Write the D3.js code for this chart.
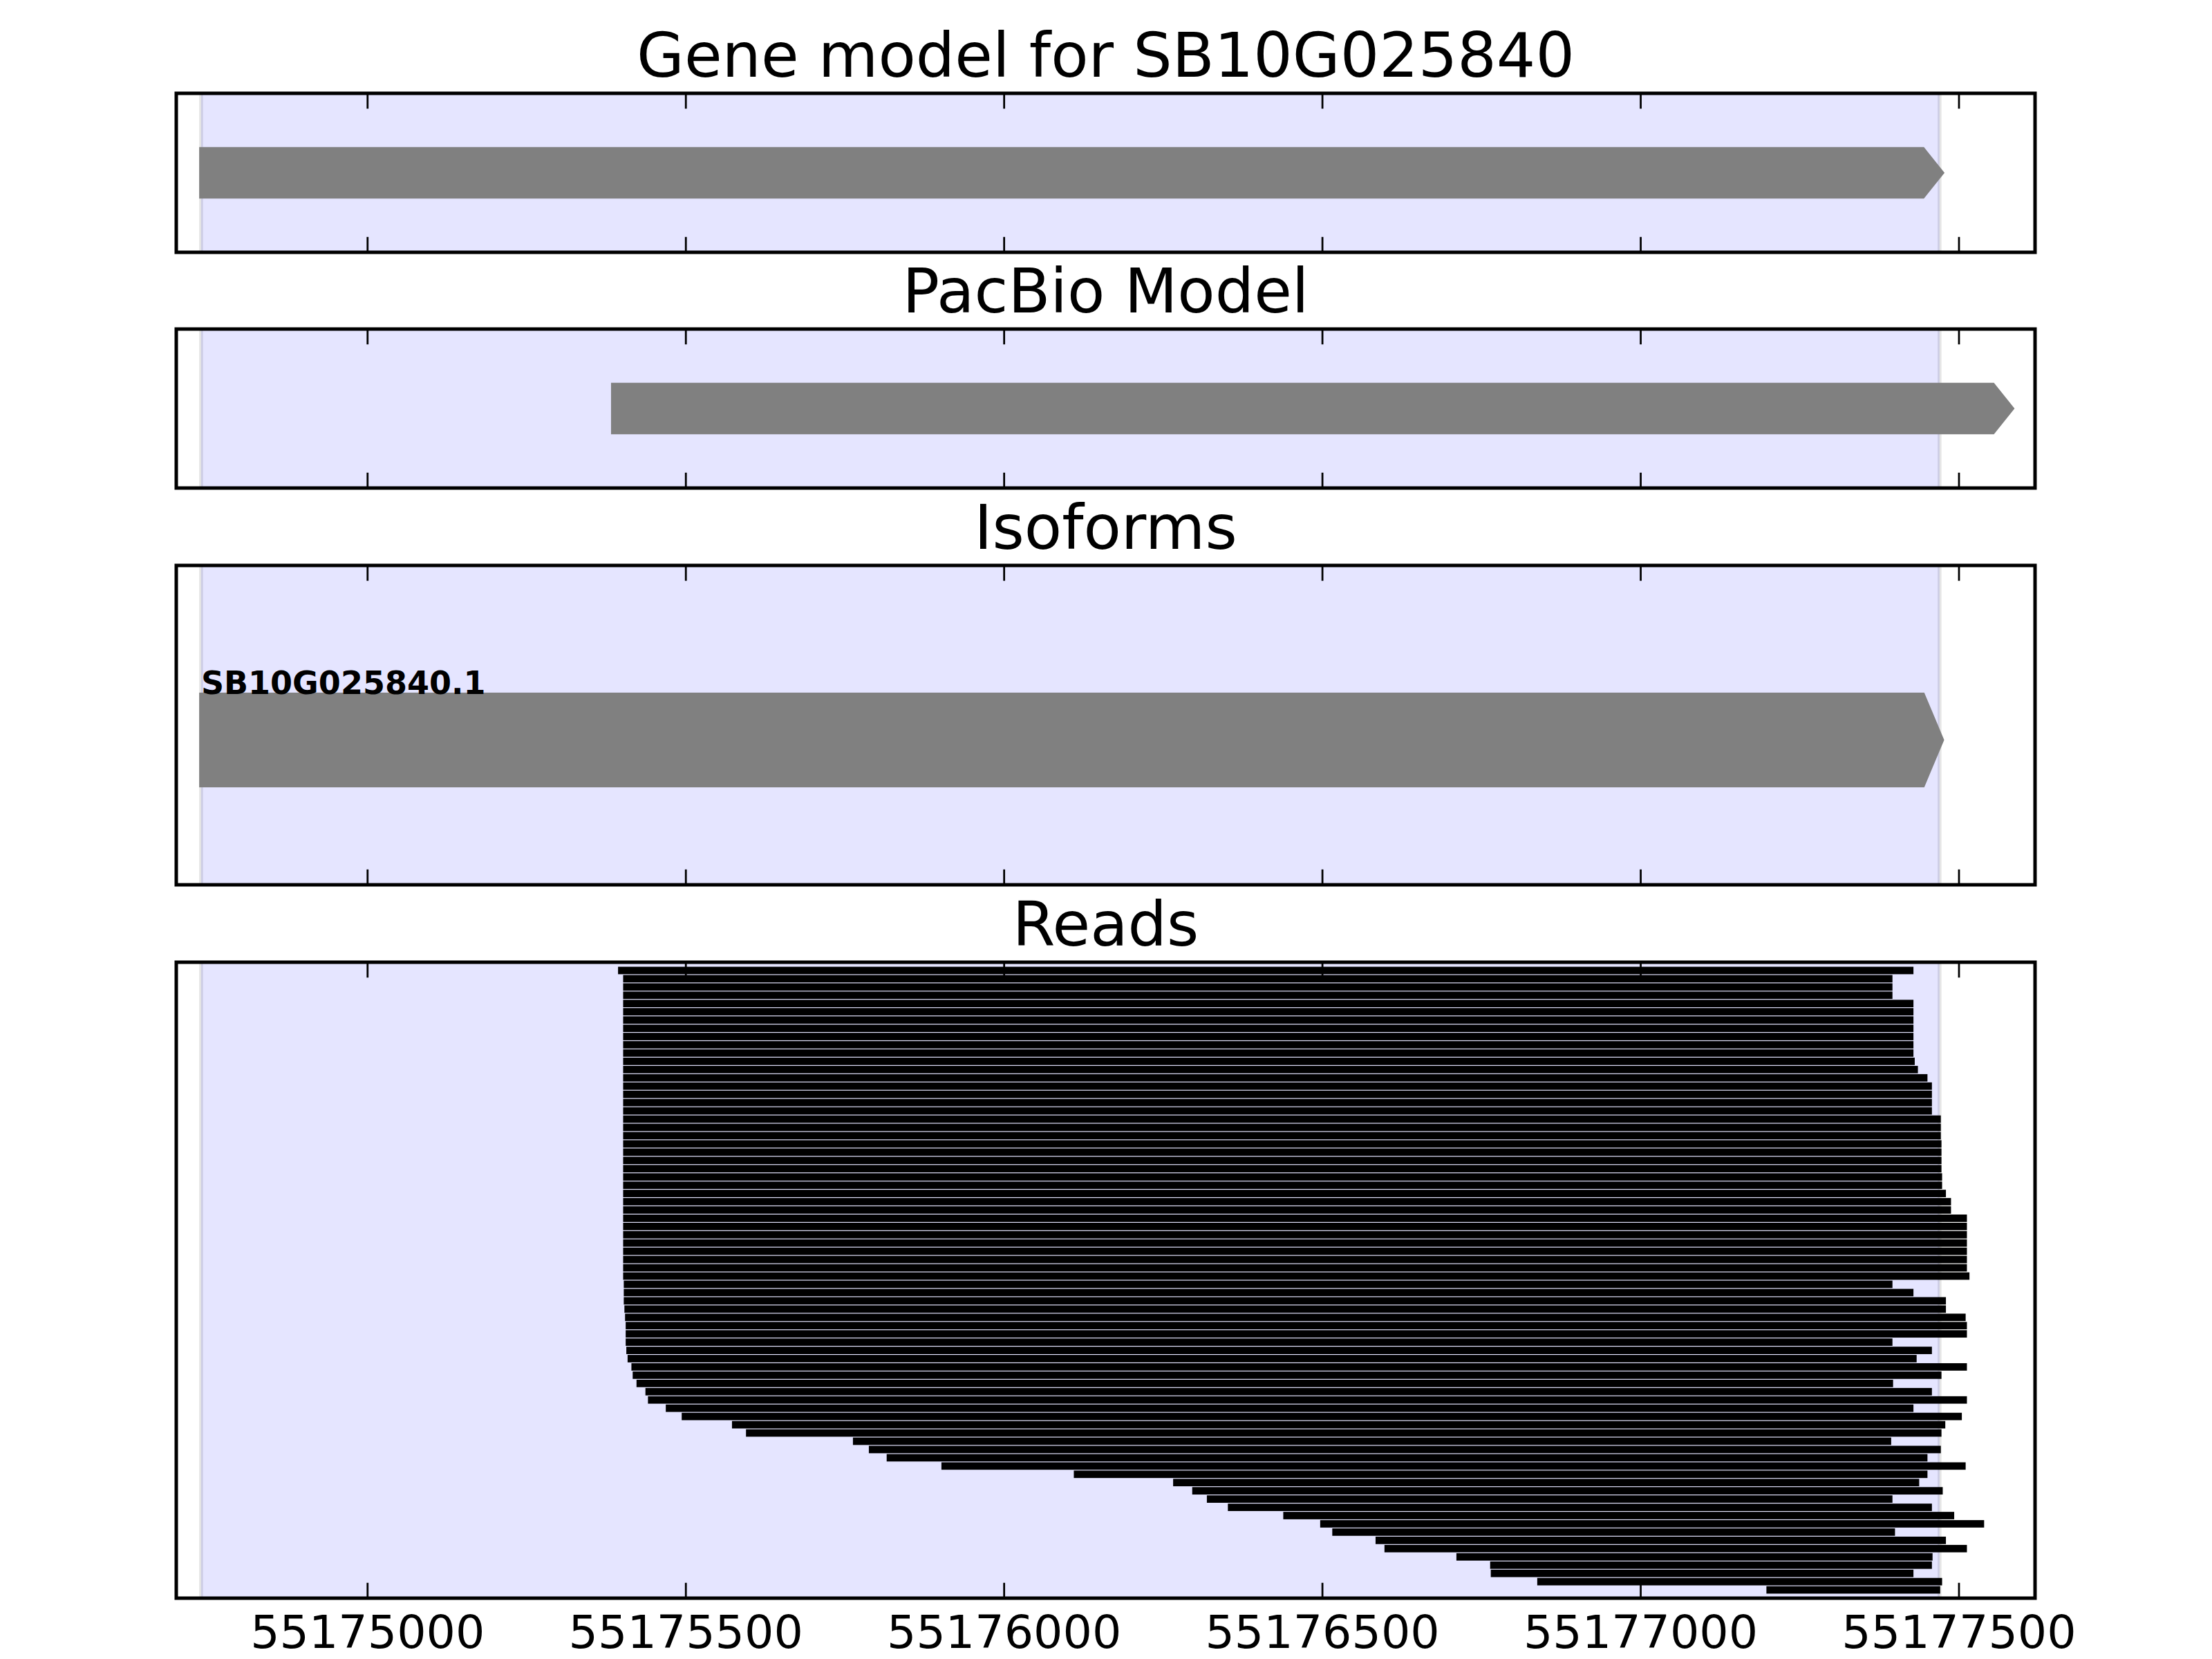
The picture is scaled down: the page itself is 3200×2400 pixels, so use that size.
<!DOCTYPE html>
<html><head><meta charset="utf-8">
<script src="https://cdn.jsdelivr.net/npm/d3@7"></script>
<style>html,body{margin:0;padding:0;background:#fff;} svg{display:block;font-family:"DejaVu Sans",sans-serif;}</style>
</head><body><svg id="chart" width="3200" height="2400"></svg>
<script>
// ---------- data ----------
const panelTitles = ["Gene model for SB10G025840", "PacBio Model", "Isoforms", "Reads"];
const xDomain = [55174700, 55177620];
const tickValues = [55175000, 55175500, 55176000, 55176500, 55177000, 55177500];
const tickLabels = ["55175000", "55175500", "55176000", "55176500", "55177000", "55177500"];
const geneSpan = [55174739, 55177470];
const geneModel = [55174739, 55177474];
const pacbioModel = [55175386, 55177584];
const isoformNames = ["SB10G025840.1"];
const isoformStarts = [55174739];
const isoformEnds = [55177474];
const readStarts = [
  55175394, 55175402, 55175402, 55175402, 55175402, 55175402, 55175402, 55175402, 55175402, 55175402,
  55175402, 55175402, 55175402, 55175402, 55175402, 55175402, 55175402, 55175402, 55175402, 55175402,
  55175402, 55175402, 55175402, 55175402, 55175402, 55175402, 55175402, 55175402, 55175402, 55175402,
  55175402, 55175402, 55175402, 55175402, 55175402, 55175402, 55175402, 55175402, 55175403, 55175403,
  55175403, 55175404, 55175405, 55175406, 55175406, 55175406, 55175407, 55175409, 55175415, 55175417,
  55175423, 55175437, 55175441, 55175469, 55175494, 55175573, 55175595, 55175763, 55175788, 55175816,
  55175902, 55176110, 55176266, 55176296, 55176319, 55176352, 55176439, 55176497, 55176516, 55176584,
  55176598, 55176711, 55176764, 55176765, 55176838, 55177198
];
const readEnds = [
  55177429, 55177396, 55177396, 55177396, 55177429, 55177429, 55177429, 55177429, 55177429, 55177429,
  55177429, 55177431, 55177436, 55177451, 55177458, 55177458, 55177458, 55177458, 55177472, 55177472,
  55177472, 55177473, 55177473, 55177473, 55177473, 55177474, 55177474, 55177480, 55177488, 55177488,
  55177513, 55177513, 55177513, 55177513, 55177513, 55177513, 55177513, 55177517, 55177396, 55177429,
  55177480, 55177480, 55177511, 55177513, 55177513, 55177396, 55177458, 55177434, 55177513, 55177473,
  55177397, 55177458, 55177513, 55177429, 55177505, 55177479, 55177473, 55177394, 55177472, 55177451,
  55177511, 55177451, 55177438, 55177475, 55177396, 55177458, 55177493, 55177540, 55177400, 55177480,
  55177513, 55177459, 55177458, 55177429, 55177474, 55177471
];

// ---------- layout ----------
const PT = 400 / 72;             // px per point
const svg = d3.select("#chart");
const axLeft = 255, axRight = 2944;
const panels = [
  {top: 135, bottom: 365},
  {top: 476, bottom: 706},
  {top: 818, bottom: 1280},
  {top: 1392, bottom: 2312}
];
const x = d3.scaleLinear().domain(xDomain).range([axLeft, axRight]);
const grey = "#808080";
const headLen = 30;        // bp
const halfW = 0.3;

const defs = svg.append("defs");
panels.forEach((p, i) => {
  defs.append("clipPath").attr("id", "clip" + i)
    .append("rect").attr("x", axLeft).attr("y", p.top)
    .attr("width", axRight - axLeft).attr("height", p.bottom - p.top);
});

function arrowPoints(s, e, yc, yScale) {
  const xs = x(s), xe = x(e), xh = x(e - headLen);
  const yt = yScale(yc + halfW), yb = yScale(yc - halfW), ym = yScale(yc);
  return [[xs, yt], [xh, yt], [xe, ym], [xh, yb], [xs, yb]];
}

const yScales = [
  d3.scaleLinear().domain([-1, 1]).range([panels[0].bottom, panels[0].top]),
  d3.scaleLinear().domain([-1, 1]).range([panels[1].bottom, panels[1].top]),
  d3.scaleLinear().domain([-0.957, 1.153]).range([panels[2].bottom, panels[2].top]),
  d3.scaleLinear().domain([-1, readStarts.length]).range([panels[3].top, panels[3].bottom])
];

panels.forEach((p, i) => {
  const g = svg.append("g");
  const inner = g.append("g").attr("clip-path", `url(#clip${i})`);
  inner.append("rect")
    .attr("x", x(geneSpan[0])).attr("width", x(geneSpan[1]) - x(geneSpan[0]))
    .attr("y", p.top - 20).attr("height", p.bottom - p.top + 40)
    .attr("fill", "rgba(0,0,255,0.1)")
    .attr("stroke", "rgba(0,0,0,0.1)").attr("stroke-width", PT);

  const ys = yScales[i];
  if (i === 0 || i === 1) {
    const m = i === 0 ? geneModel : pacbioModel;
    inner.append("polygon")
      .attr("points", arrowPoints(m[0], m[1], 0, ys).map(d => d.join(",")).join(" "))
      .attr("fill", grey).attr("stroke", grey).attr("stroke-width", PT)
      .attr("stroke-linejoin", "miter");
  } else if (i === 2) {
    isoformNames.forEach((name, k) => {
      inner.append("polygon")
        .attr("points", arrowPoints(isoformStarts[k], isoformEnds[k], 0, ys).map(d => d.join(",")).join(" "))
        .attr("fill", grey).attr("stroke", grey).attr("stroke-width", PT)
        .attr("stroke-linejoin", "miter");
      inner.append("text")
        .attr("x", x(isoformStarts[k]))
        .attr("y", ys(halfW) - 1)
        .attr("font-size", 46).attr("font-weight", "bold")
        .attr("fill", "#000")
        .text(name);
    });
  } else {
    const barH = 0.9;
    inner.selectAll("rect.read").data(readStarts.map((s, k) => ({s, e: readEnds[k], k})))
      .join("rect").attr("class", "read")
      .attr("x", d => x(d.s)).attr("width", d => x(d.e) - x(d.s))
      .attr("y", d => ys(d.k - barH / 2)).attr("height", d => ys(barH) - ys(0))
      .attr("fill", "#000");
  }

  const tl = 4 * PT;
  const bottomAxis = d3.axisBottom(x).tickValues(tickValues).tickSizeInner(-tl).tickSizeOuter(0)
    .tickFormat((d, k) => i === 3 ? tickLabels[k] : "");
  const topAxis = d3.axisTop(x).tickValues(tickValues).tickSizeInner(-tl).tickSizeOuter(0).tickFormat("");
  const gb = g.append("g").attr("transform", `translate(0,${p.bottom})`).call(bottomAxis);
  const gt = g.append("g").attr("transform", `translate(0,${p.top})`).call(topAxis);
  [gb, gt].forEach(a => {
    a.select(".domain").remove();
    a.selectAll(".tick line").attr("stroke", "#000").attr("stroke-width", 0.5 * PT);
  });
  gb.selectAll(".tick text")
    .attr("y", 72).attr("dy", 0)
    .attr("font-size", 12 * PT).attr("font-family", "DejaVu Sans").attr("fill", "#000");

  g.append("rect").attr("x", axLeft).attr("y", p.top)
    .attr("width", axRight - axLeft).attr("height", p.bottom - p.top)
    .attr("fill", "none").attr("stroke", "#000").attr("stroke-width", 5);

  g.append("text").attr("x", (axLeft + axRight) / 2).attr("y", p.top - 24)
    .attr("text-anchor", "middle").attr("font-size", 16 * PT).attr("fill", "#000")
    .text(panelTitles[i]);
});
</script></body></html>
